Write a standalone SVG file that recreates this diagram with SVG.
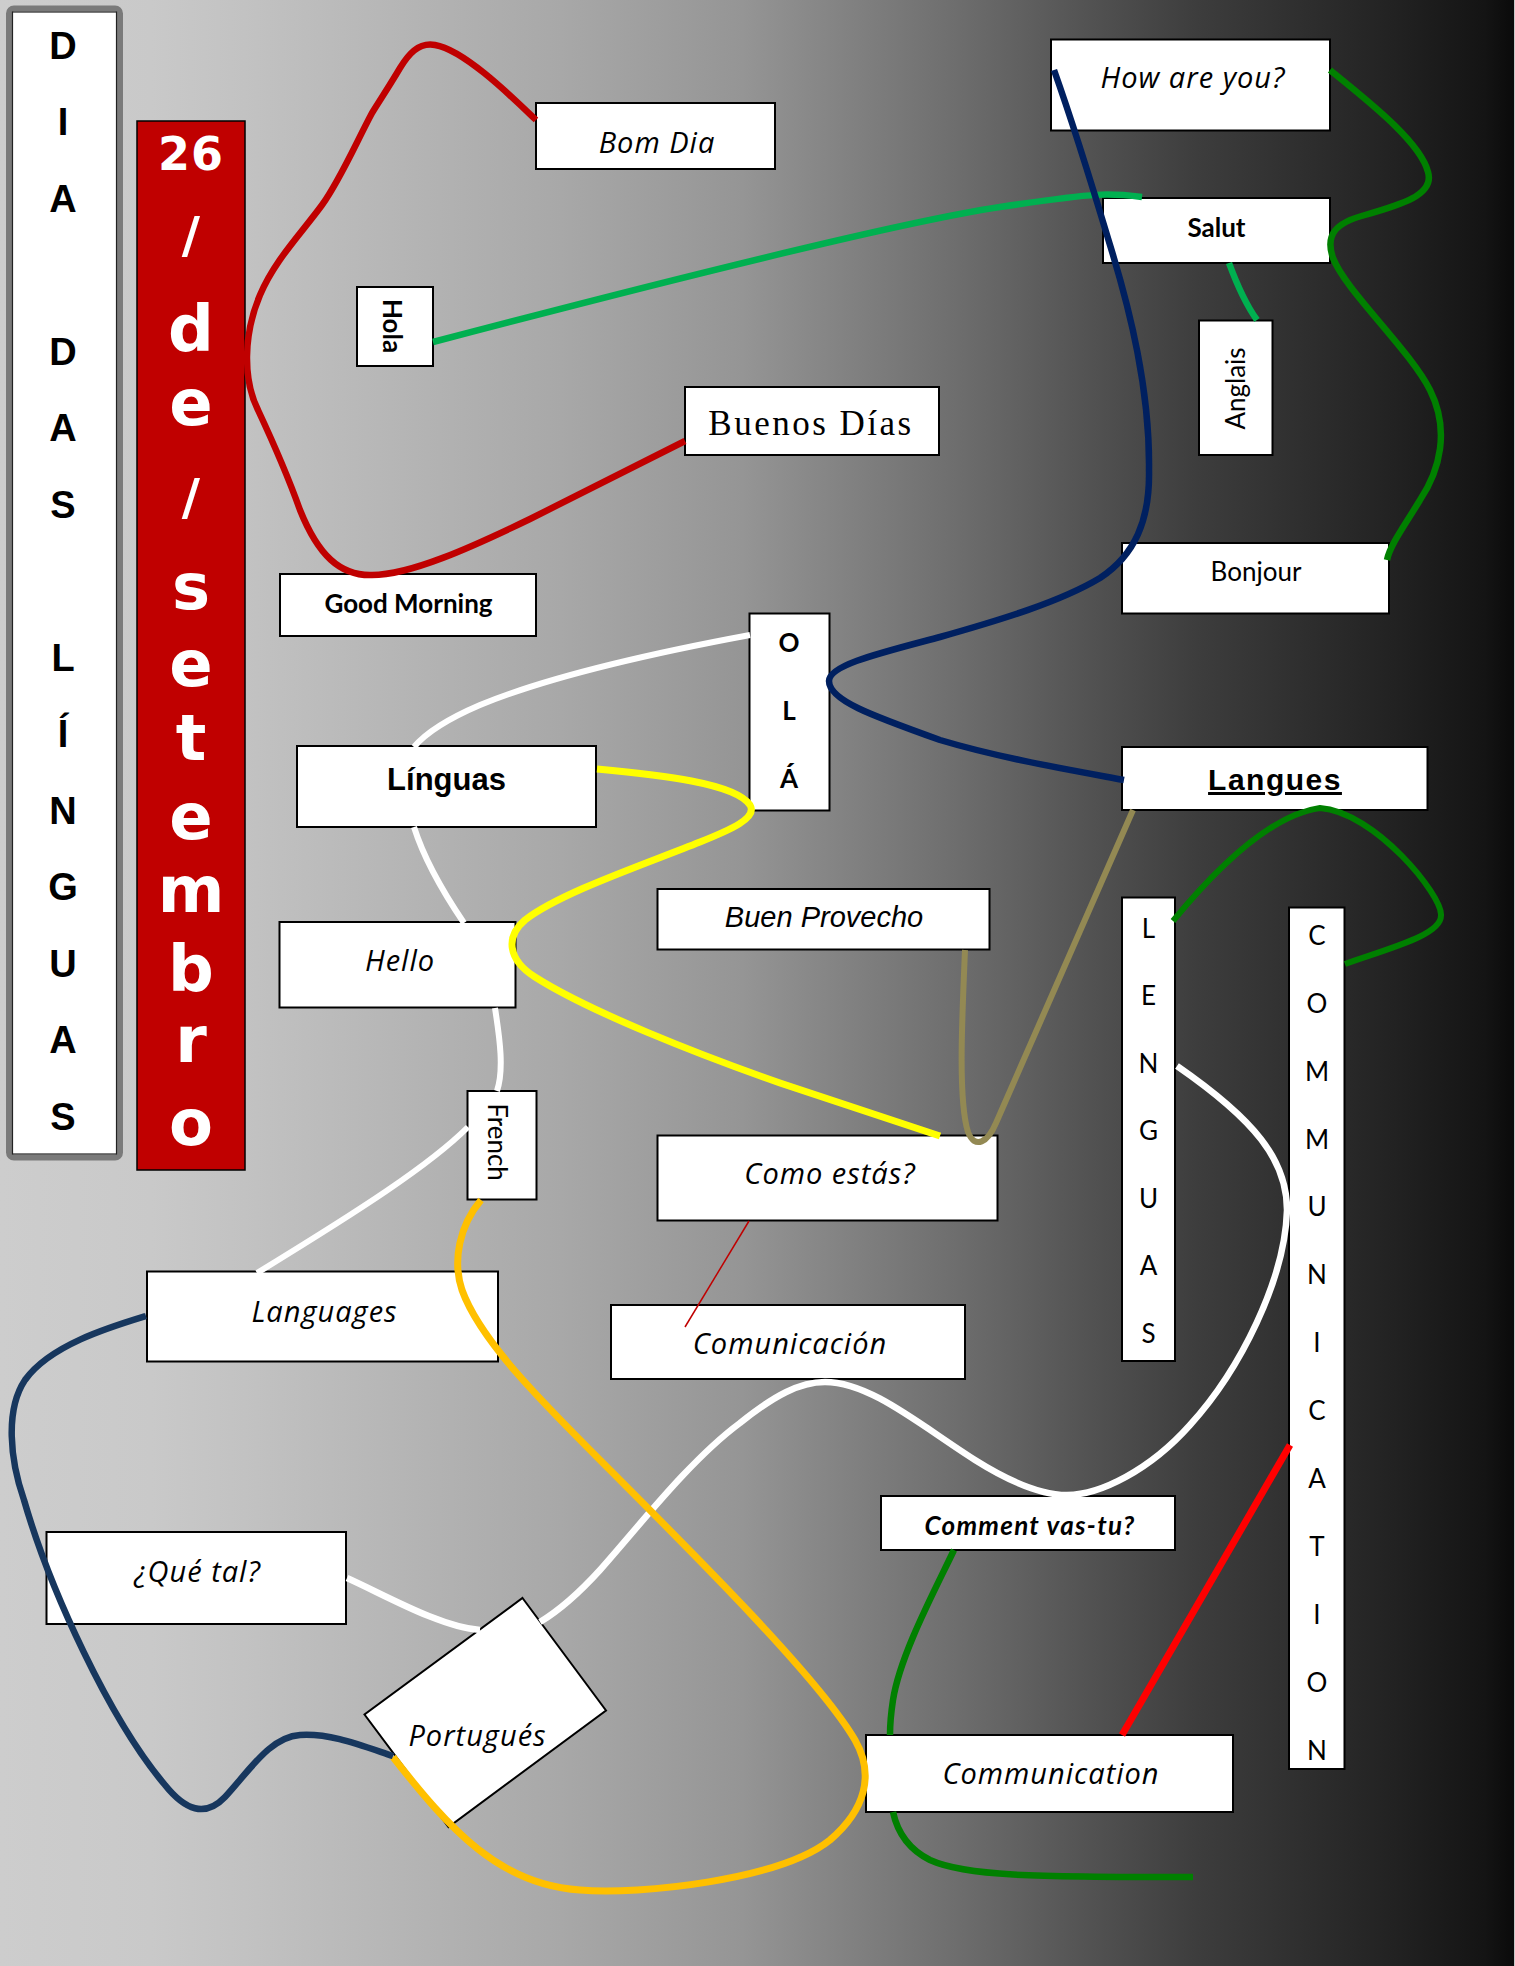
<svg xmlns="http://www.w3.org/2000/svg" width="1515" height="1966" viewBox="0 0 1515 1966">
<defs>
<linearGradient id="bg" x1="0" y1="0" x2="1515" y2="0" gradientUnits="userSpaceOnUse">
<stop offset="0" stop-color="#cdcdcd"/>
<stop offset="0.1" stop-color="#c9c9c9"/>
<stop offset="0.17" stop-color="#c1c1c1"/>
<stop offset="0.37" stop-color="#a8a8a8"/>
<stop offset="0.49" stop-color="#959595"/>
<stop offset="0.63" stop-color="#6e6e6e"/>
<stop offset="0.73" stop-color="#4f4f4f"/>
<stop offset="0.79" stop-color="#3d3d3d"/>
<stop offset="0.92" stop-color="#222222"/>
<stop offset="0.98" stop-color="#141414"/>
<stop offset="1" stop-color="#0a0a0a"/>
</linearGradient>
<style>
.box{fill:#fff;stroke:#000;stroke-width:2}
text{text-anchor:middle;fill:#000}
.hand{font-family:"Open Sans","Noto Sans",sans-serif;font-style:italic;font-size:29px;letter-spacing:1px}
.cal{font-family:Lato,"Open Sans",sans-serif;font-size:26px}
.calb{font-family:Lato,"Open Sans",sans-serif;font-size:26px;font-weight:bold}
.arb{font-family:"Liberation Sans",Arial,sans-serif;font-weight:bold}
.dia{font-family:"Liberation Sans",Arial,sans-serif;font-weight:bold;font-size:38px}
.date{font-family:"DejaVu Sans",sans-serif;font-weight:bold;font-size:64px}
.date text{fill:#fff}
.c{fill:none}
</style>
</defs>
<rect x="0" y="0" width="1515" height="1966" fill="url(#bg)"/>
<rect x="1514" y="0" width="1" height="1966" fill="#c8c8c8"/>

<g id="dia-das-linguas">
<rect x="9" y="8.5" width="111" height="1149" rx="5" fill="#fff" stroke="#7a7a7a" stroke-width="6"/>
<rect x="12.5" y="12" width="104" height="1142" fill="none" stroke="#222" stroke-width="1.2"/>
<g class="dia">
<text x="63" y="58.5">D</text>
<text x="63" y="135">I</text>
<text x="63" y="211.5">A</text>
<text x="63" y="364.5">D</text>
<text x="63" y="441">A</text>
<text x="63" y="517.5">S</text>
<text x="63" y="670.5">L</text>
<text x="63" y="747">Í</text>
<text x="63" y="823.5">N</text>
<text x="63" y="900">G</text>
<text x="63" y="976.5">U</text>
<text x="63" y="1053">A</text>
<text x="63" y="1129.5">S</text>
</g>
</g>

<g id="date" class="date">
<rect x="137" y="121" width="108" height="1049" fill="#c00000" stroke="#000" stroke-width="1.5"/>
<text x="191" y="170" font-size="46" letter-spacing="1">26</text>
<text x="191" y="252" font-size="50">/</text>
<text x="191" y="351">d</text>
<text x="191" y="425">e</text>
<text x="191" y="514" font-size="50">/</text>
<text x="191" y="609">s</text>
<text x="191" y="686">e</text>
<text x="191" y="760">t</text>
<text x="191" y="839">e</text>
<text x="191" y="912">m</text>
<text x="191" y="991">b</text>
<text x="191" y="1062">r</text>
<text x="191" y="1145">o</text>
</g>

<g id="bom-dia"><rect class="box" x="536" y="103" width="239" height="66"/><text class="hand" x="657" y="153">Bom Dia</text></g>
<g id="hola"><rect class="box" x="357" y="287" width="76" height="79"/><text class="calb" transform="translate(383,326) rotate(90)">Hola</text></g>
<g id="buenos-dias"><rect class="box" x="685" y="387" width="254" height="68"/><text x="811" y="434.5" font-family="Liberation Serif, serif" font-size="35" letter-spacing="2.5">Buenos Días</text></g>
<g id="good-morning"><rect class="box" x="280" y="574" width="256" height="62"/><text class="calb" x="408.5" y="612.5" font-size="29">Good Morning</text></g>
<g id="how-are-you"><rect class="box" x="1051" y="39.5" width="279" height="91"/><text class="hand" x="1193" y="88">How are you?</text></g>
<g id="salut"><rect class="box" x="1103" y="198" width="227" height="65"/><text class="calb" x="1216.5" y="237" font-size="29">Salut</text></g>
<g id="anglais"><rect class="box" x="1199" y="320.5" width="73.5" height="134.5"/><text class="cal" transform="translate(1245,388.5) rotate(-90)" font-size="25">Anglais</text></g>
<g id="bonjour"><rect class="box" x="1122" y="543" width="267" height="70.5"/><text class="cal" x="1256" y="580.5" font-size="27">Bonjour</text></g>
<g id="ola"><rect class="box" x="749.5" y="613.5" width="80" height="197"/>
<text class="calb" x="789" y="652">O</text><text class="calb" x="789" y="720">L</text><text class="calb" x="789" y="788">Á</text></g>
<g id="linguas"><rect class="box" x="297" y="746" width="299" height="81"/><text class="arb" x="446.5" y="790" font-size="31">Línguas</text></g>
<g id="langues"><rect class="box" x="1122" y="747" width="305.5" height="63"/><text class="arb" x="1275" y="790" font-size="30" letter-spacing="1.5" text-decoration="underline">Langues</text></g>
<g id="buen-provecho"><rect class="box" x="657.5" y="889" width="332" height="60.5"/><text x="824" y="927" font-family="Liberation Sans, Arial, sans-serif" font-style="italic" font-size="29">Buen Provecho</text></g>
<g id="hello"><rect class="box" x="279.5" y="922" width="236" height="85.5"/><text class="hand" x="400" y="971">Hello</text></g>
<g id="french"><rect class="box" x="467.5" y="1091" width="69" height="108.5"/><text class="cal" transform="translate(488,1142) rotate(90)">French</text></g>
<g id="como-estas"><rect class="box" x="657.5" y="1135.5" width="340" height="85"/><text class="hand" x="830" y="1184">Como estás?</text></g>
<g id="lenguas"><rect class="box" x="1122" y="897.5" width="53" height="463.5"/>
<g class="cal" font-size="27">
<text x="1148.5" y="937.5">L</text><text x="1148.5" y="1005">E</text><text x="1148.5" y="1072.5">N</text><text x="1148.5" y="1140">G</text><text x="1148.5" y="1207.5">U</text><text x="1148.5" y="1275">A</text><text x="1148.5" y="1342.5">S</text>
</g></g>
<g id="communication-v"><rect class="box" x="1289" y="907.5" width="55.5" height="861.5"/>
<g class="cal" font-size="27">
<text x="1317" y="945">C</text><text x="1317" y="1013">O</text><text x="1317" y="1080.5">M</text><text x="1317" y="1148.5">M</text><text x="1317" y="1216">U</text><text x="1317" y="1284">N</text><text x="1317" y="1352">I</text><text x="1317" y="1420">C</text><text x="1317" y="1488">A</text><text x="1317" y="1556">T</text><text x="1317" y="1624">I</text><text x="1317" y="1692">O</text><text x="1317" y="1760">N</text>
</g></g>
<g id="languages"><rect class="box" x="147" y="1271.5" width="351" height="90"/><text class="hand" x="324.5" y="1322" font-size="28">Languages</text></g>
<g id="comunicacion"><rect class="box" x="611" y="1305" width="354" height="74"/><text class="hand" x="790" y="1354" font-size="26">Comunicación</text></g>
<g id="que-tal"><rect class="box" x="46.5" y="1532" width="299.5" height="92"/><text class="hand" x="197.5" y="1582" letter-spacing="2">¿Qué tal?</text></g>
<g id="portugues"><polygon points="522.5,1598 606,1710.5 448.5,1827 364.5,1714.5" fill="#fff" stroke="#000" stroke-width="2"/><text class="hand" x="477.5" y="1746">Portugués</text></g>
<g id="comment-vas-tu"><rect class="box" x="881" y="1496" width="294" height="54"/><text class="calb" x="1030" y="1534.5" font-size="29" font-style="italic" letter-spacing="1.3">Comment vas-tu?</text></g>
<g id="communication"><rect class="box" x="866" y="1735" width="367" height="77"/><text class="hand" x="1051" y="1784" font-size="27">Communication</text></g>

<g id="connectors" class="c">
<path d="M 536 120 C 515 100 465 50 435 45 C 418 42 408 55 400 68 C 390 85 380 100 372 113 C 355 145 340 180 322 205 C 300 235 275 260 260 295 C 243 335 243 380 258 410 C 272 440 285 468 300 510 C 318 555 340 576 372 575 C 410 575 470 548 530 519 L 685 441" stroke="#c00000" stroke-width="6.5"/>
<path d="M 433 342 C 650 285 900 222 1000 207 S 1110 193 1142 197" stroke="#00b050" stroke-width="6.5"/>
<path d="M 1229 263 C 1236 282 1244 302 1257 320" stroke="#00b050" stroke-width="6.5"/>
<path d="M 1054 70 C 1070 115 1095 195 1110 245 C 1130 310 1150 390 1149 470 C 1150 520 1135 555 1100 578 C 1060 602 1000 620 940 637 C 880 653 829 665 829 681 C 829 700 870 715 940 740 C 1000 758 1070 770 1124 780" stroke="#002060" stroke-width="6.5"/>
<path d="M 1330 70 C 1360 95 1420 140 1428 172 C 1435 195 1400 205 1365 215 C 1335 223 1325 235 1333 258 C 1345 290 1410 350 1430 390 C 1450 430 1440 470 1420 500 C 1405 525 1390 545 1387 560" stroke="#008000" stroke-width="6.5"/>
<path d="M 1173 921 C 1215 870 1270 815 1320 808 C 1375 812 1442 895 1441 915 C 1442 935 1390 948 1345 964" stroke="#008000" stroke-width="6"/>
<path d="M 965 950 C 962 1020 958 1100 968 1132 C 975 1150 988 1142 996 1123 L 1133 810" stroke="#938953" stroke-width="6"/>
<path d="M 597 769 C 660 775 735 783 750 805 C 758 818 730 830 700 842 C 640 866 560 893 525 920 C 505 937 508 960 535 977 C 590 1012 700 1055 780 1083 L 940 1136" stroke="#ffff00" stroke-width="7"/>
<path d="M 750 635 C 680 648 560 672 480 705 C 445 720 424 735 414 747" stroke="#fff" stroke-width="6"/>
<path d="M 414 827 C 425 862 445 895 464 923" stroke="#fff" stroke-width="6"/>
<path d="M 495 1008 C 500 1040 504 1070 497 1091" stroke="#fff" stroke-width="6"/>
<path d="M 468 1127 C 430 1165 360 1210 257 1273" stroke="#fff" stroke-width="6"/>
<path d="M 347 1578 C 385 1595 440 1627 480 1630" stroke="#fff" stroke-width="6.5"/>
<path d="M 540 1622 C 560 1610 580 1592 600 1570 C 640 1525 690 1460 740 1423 C 775 1395 800 1382 825 1382 C 870 1382 920 1425 975 1460 C 1010 1482 1040 1495 1067 1495 C 1100 1495 1150 1470 1190 1425 C 1240 1370 1285 1280 1287 1210 C 1287 1160 1255 1120 1177 1066" stroke="#fff" stroke-width="6.5"/>
<path d="M 481 1200 C 460 1225 452 1260 462 1290 C 480 1340 540 1400 600 1460 C 700 1560 820 1680 855 1740 C 875 1775 865 1810 830 1840 C 780 1880 640 1895 580 1890 C 500 1885 450 1830 393 1757" stroke="#ffc000" stroke-width="7"/>
<path d="M 146 1316 C 110 1327 50 1345 25 1380 C 5 1410 10 1460 24 1500 C 50 1590 110 1720 165 1785 C 185 1810 205 1818 225 1797 C 250 1770 270 1737 300 1735 C 330 1733 360 1745 393 1756" stroke="#17375e" stroke-width="6.5"/>
<path d="M 749 1221 L 685 1327" stroke="#c00000" stroke-width="1.5"/>
<path d="M 1122 1735 L 1290 1445" stroke="#ff0000" stroke-width="7"/>
<path d="M 954 1550 C 935 1590 900 1655 893 1700 C 891 1713 890 1724 890 1735" stroke="#008000" stroke-width="6.5"/>
<path d="M 893 1812 C 898 1835 910 1850 930 1860 C 965 1876 1030 1877 1193 1877" stroke="#008000" stroke-width="6.5"/>
</g>
</svg>
